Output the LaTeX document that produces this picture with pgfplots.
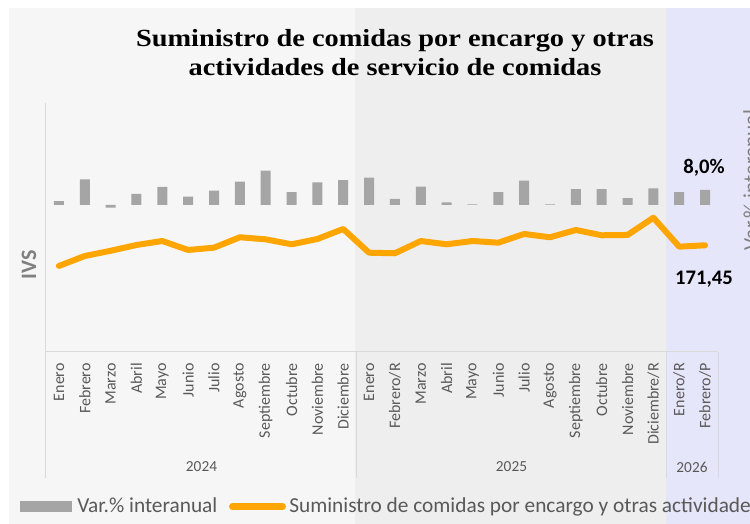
\documentclass[border=0pt]{standalone}
\usepackage{pgfplots}
\pgfplotsset{compat=1.18}
\usepackage{fontspec}
\setmainfont{Carlito}
\newfontfamily\titlefont{Liberation Serif}[FakeStretch=1.15]
\definecolor{panelA}{HTML}{F6F6F6}
\definecolor{panelB}{HTML}{EEEEEE}
\definecolor{panelC}{HTML}{E6E6FA}
\definecolor{barGray}{HTML}{A5A5A5}
\definecolor{lineOrange}{HTML}{FFA500}
\definecolor{sepGray}{HTML}{D9D9D9}
\definecolor{tickGray}{HTML}{595959}
\definecolor{labGray}{HTML}{808080}

\pgfplotstableread{
x y
0 2.1
1 13.7
2 -1.4
3 5.9
4 9.6
5 4.4
6 7.6
7 12.4
8 18.3
9 6.8
10 12.1
11 13.3
12 14.6
13 3.2
14 9.8
15 1.4
16 0.3
17 6.8
18 13.0
19 0.3
20 8.4
21 8.5
22 3.6
23 8.9
24 6.8
25 8.0
}\vartable

\pgfplotstableread{
x y
0 138.2
1 154.2
2 162.6
3 171.9
4 178.3
5 163.9
6 167.6
7 184.3
8 181.0
9 173.0
10 181.5
11 197.6
12 159.5
13 158.6
14 178.3
15 173.0
16 178.3
17 175.6
18 189.6
19 184.3
20 196.0
21 187.5
22 188.0
23 215.7
24 169.2
25 171.45
}\ivstable

\begin{document}
\begin{tikzpicture}
\useasboundingbox (-34.5pt,-129pt) rectangle (528pt,264pt);
\begin{scope}[x=0.75pt,y=-0.75pt,shift={(-34.5pt,264pt)}]
\fill[white] (0,0) rectangle (750,524);
\fill[panelA] (9,8) rectangle (355,524);
\fill[panelB] (355,8) rectangle (666,524);
\fill[panelC] (666,8) rectangle (750,524);
\draw[sepGray, line width=0.75pt] (46,103) -- (46,478);
\draw[sepGray, line width=0.75pt] (46,352) -- (718,352);
\draw[sepGray, line width=0.75pt] (356.5,352) -- (356.5,478);
\draw[sepGray, line width=0.75pt] (666,352) -- (666,478);
\draw[sepGray, line width=0.75pt] (718,352) -- (718,478);
\end{scope}

\begin{axis}[at={(0,0)}, anchor=south west, scale only axis,
  width=504pt, height=186.75pt,
  xmin=-0.5, xmax=25.5, ymin=-78.4, ymax=54.4,
  axis lines=none, clip=false]
\addplot[ybar, bar width=7.5pt, fill=barGray, draw=none] table[x=x,y=y] {\vartable};
\end{axis}

\begin{axis}[at={(0,0)}, anchor=south west, scale only axis,
  width=504pt, height=186.75pt,
  xmin=-0.5, xmax=25.5, ymin=0, ymax=400,
  axis x line*=bottom, hide y axis, axis line style={draw=none},
  xtick={0,...,25}, major tick length=0pt, xtick style={draw=none},
  xticklabels={Enero,Febrero,Marzo,Abril,Mayo,Junio,Julio,Agosto,Septiembre,Octubre,Noviembre,Diciembre,Enero,Febrero/R,Marzo,Abril,Mayo,Junio,Julio,Agosto,Septiembre,Octubre,Noviembre,Diciembre/R,Enero/R,Febrero/P},
  xticklabel style={font=\fontsize{12}{14}\selectfont, text=tickGray, inner sep=0pt, rotate=90, anchor=east},
  xticklabel shift=8.25pt,
  clip=false]
\addplot[lineOrange, line width=4.5pt, line join=round, line cap=round] table[x=x,y=y] {\ivstable};
\end{axis}

\begin{scope}[x=0.75pt,y=-0.75pt,shift={(-34.5pt,264pt)}]
\node[anchor=base, inner sep=0pt, font=\titlefont\bfseries\fontsize{18.5}{22}\selectfont] at (395,46.5) {Suministro de comidas por encargo y otras};
\node[anchor=base, inner sep=0pt, font=\titlefont\bfseries\fontsize{18.5}{22}\selectfont] at (395,76) {actividades de servicio de comidas};
\node[rotate=90, inner sep=0pt, text=labGray, font=\bfseries\fontsize{16.5}{18}\selectfont] at (29,265) {IVS};
\node[rotate=90, anchor=north, inner sep=0pt, text=labGray, font=\fontsize{16}{18}\selectfont] at (743,180) {Var.\% interanual};
\node[anchor=base, inner sep=0pt, font=\bfseries\fontsize{15.5}{18}\selectfont] at (704,173.3) {8,0\%};
\node[anchor=base, inner sep=0pt, font=\bfseries\fontsize{15.5}{18}\selectfont] at (704,284.5) {171,45};
\node[inner sep=0pt, text=tickGray, font=\fontsize{11.5}{13}\selectfont] at (201.5,467) {2024};
\node[inner sep=0pt, text=tickGray, font=\fontsize{11.5}{13}\selectfont] at (511.5,467) {2025};
\node[inner sep=0pt, text=tickGray, font=\fontsize{11.5}{13}\selectfont] at (692,467) {2026};
\fill[barGray] (20,501) rectangle (72,512.5);
\draw[lineOrange, line width=5.25pt, line cap=round] (232.5,506.5) -- (282.5,506.5);
\node[anchor=base west, inner sep=0pt, text=tickGray, font=\fontsize{16}{18}\selectfont] at (77,512.7) {Var.\% interanual};
\node[anchor=base west, inner sep=0pt, text=tickGray, font=\fontsize{16}{18}\selectfont] at (289,512.7) {Suministro de comidas por encargo y otras actividades de servicio de comidas};
\end{scope}
\end{tikzpicture}
\end{document}
